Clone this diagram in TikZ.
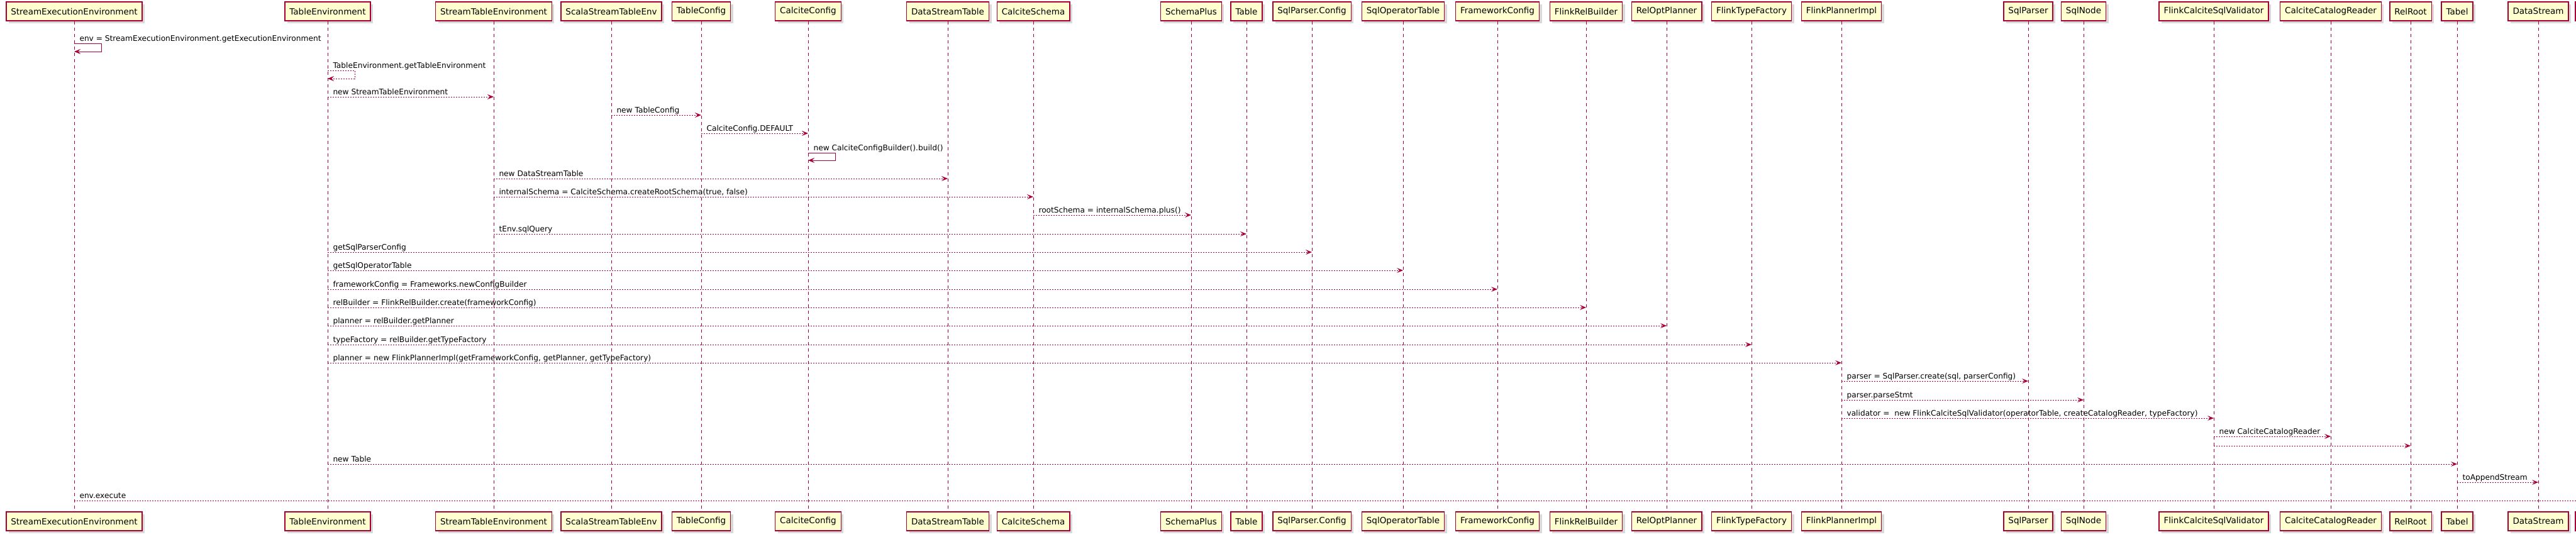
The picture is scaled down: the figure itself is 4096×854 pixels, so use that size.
\documentclass[tikz,border=0pt]{standalone}
\usepackage{fontspec}
\setmainfont{DejaVu Sans}
\usetikzlibrary{arrows.meta,shadows}
\definecolor{umlred}{HTML}{A80036}
\definecolor{umlfill}{HTML}{FEFECE}
\tikzset{
  part/.style={draw=umlred, line width=1.5pt, fill=umlfill, minimum height=30pt,
    inner xsep=7.5pt, inner ysep=0pt, font=\fontsize{13.5}{16}\selectfont,
    drop shadow={shadow xshift=4pt, shadow yshift=-4pt, fill=black!60, opacity=0.25}},
  life/.style={draw=umlred, line width=1pt, dash pattern=on 5pt off 5pt},
  msg/.style={draw=umlred, line width=1pt, dash pattern=on 2pt off 2pt,
    -{Stealth[length=10pt,width=8pt,inset=4pt]}},
  msgsolid/.style={msg, solid},
  lbl/.style={anchor=base west, inner sep=0pt, xshift=8pt, yshift=3.5pt,
    font=\fontsize{12.2}{14}\selectfont, text=black}
}
\begin{document}
\begin{tikzpicture}[x=1pt,y=-1pt]
  \useasboundingbox (0,0) rectangle (4096,854);
  %Participants (top, bottom, lifeline)
  \node[part] (sexe) at (118,18) {StreamExecutionEnvironment};
  \node[part] (sexeB) at (118,829) {StreamExecutionEnvironment};
  \draw[life] (sexe) -- (sexeB);
  \node[part] (tenv) at (521,18) {TableEnvironment};
  \node[part] (tenvB) at (521,829) {TableEnvironment};
  \draw[life] (tenv) -- (tenvB);
  \node[part] (stenv) at (785,18) {StreamTableEnvironment};
  \node[part] (stenvB) at (785,829) {StreamTableEnvironment};
  \draw[life] (stenv) -- (stenvB);
  \node[part] (sstenv) at (972,18) {ScalaStreamTableEnv};
  \node[part] (sstenvB) at (972,829) {ScalaStreamTableEnv};
  \draw[life] (sstenv) -- (sstenvB);
  \node[part] (tcfg) at (1115,18) {TableConfig};
  \node[part] (tcfgB) at (1115,829) {TableConfig};
  \draw[life] (tcfg) -- (tcfgB);
  \node[part] (ccfg) at (1285,18) {CalciteConfig};
  \node[part] (ccfgB) at (1285,829) {CalciteConfig};
  \draw[life] (ccfg) -- (ccfgB);
  \node[part] (dstab) at (1507,18) {DataStreamTable};
  \node[part] (dstabB) at (1507,829) {DataStreamTable};
  \draw[life] (dstab) -- (dstabB);
  \node[part] (cschema) at (1643,18) {CalciteSchema};
  \node[part] (cschemaB) at (1643,829) {CalciteSchema};
  \draw[life] (cschema) -- (cschemaB);
  \node[part] (splus) at (1894,18) {SchemaPlus};
  \node[part] (splusB) at (1894,829) {SchemaPlus};
  \draw[life] (splus) -- (splusB);
  \node[part] (table) at (1982,18) {Table};
  \node[part] (tableB) at (1982,829) {Table};
  \draw[life] (table) -- (tableB);
  \node[part] (spcfg) at (2086,18) {SqlParser.Config};
  \node[part] (spcfgB) at (2086,829) {SqlParser.Config};
  \draw[life] (spcfg) -- (spcfgB);
  \node[part] (sotab) at (2231,18) {SqlOperatorTable};
  \node[part] (sotabB) at (2231,829) {SqlOperatorTable};
  \draw[life] (sotab) -- (sotabB);
  \node[part] (fcfg) at (2381,18) {FrameworkConfig};
  \node[part] (fcfgB) at (2381,829) {FrameworkConfig};
  \draw[life] (fcfg) -- (fcfgB);
  \node[part] (frb) at (2522,18) {FlinkRelBuilder};
  \node[part] (frbB) at (2522,829) {FlinkRelBuilder};
  \draw[life] (frb) -- (frbB);
  \node[part] (rop) at (2650,18) {RelOptPlanner};
  \node[part] (ropB) at (2650,829) {RelOptPlanner};
  \draw[life] (rop) -- (ropB);
  \node[part] (ftf) at (2785,18) {FlinkTypeFactory};
  \node[part] (ftfB) at (2785,829) {FlinkTypeFactory};
  \draw[life] (ftf) -- (ftfB);
  \node[part] (fpi) at (2928,18) {FlinkPlannerImpl};
  \node[part] (fpiB) at (2928,829) {FlinkPlannerImpl};
  \draw[life] (fpi) -- (fpiB);
  \node[part] (sparser) at (3225,18) {SqlParser};
  \node[part] (sparserB) at (3225,829) {SqlParser};
  \draw[life] (sparser) -- (sparserB);
  \node[part] (snode) at (3313,18) {SqlNode};
  \node[part] (snodeB) at (3313,829) {SqlNode};
  \draw[life] (snode) -- (snodeB);
  \node[part] (fcsv) at (3520,18) {FlinkCalciteSqlValidator};
  \node[part] (fcsvB) at (3520,829) {FlinkCalciteSqlValidator};
  \draw[life] (fcsv) -- (fcsvB);
  \node[part] (ccr) at (3706,18) {CalciteCatalogReader};
  \node[part] (ccrB) at (3706,829) {CalciteCatalogReader};
  \draw[life] (ccr) -- (ccrB);
  \node[part] (rroot) at (3833,18) {RelRoot};
  \node[part] (rrootB) at (3833,829) {RelRoot};
  \draw[life] (rroot) -- (rrootB);
  \node[part] (tabel) at (3907,18) {Tabel};
  \node[part] (tabelB) at (3907,829) {Tabel};
  \draw[life] (tabel) -- (tabelB);
  \node[part] (dstream) at (4036,18) {DataStream};
  \node[part] (dstreamB) at (4036,829) {DataStream};
  \draw[life] (dstream) -- (dstreamB);
  %Participant cut off at the right edge
  \node[part, anchor=west, minimum width=100pt] (pnext) at (4094,18) {};
  \node[part, anchor=west, minimum width=100pt] (pnextB) at (4094,829) {};
  %Messages
  \draw[msgsolid] (sexe |- 0,69) node[lbl]{env = StreamExecutionEnvironment.getExecutionEnvironment}
    -- ++(43,0) -- ++(0,13) -- (sexe |- 0,82);
  \draw[msg] (tenv |- 0,112) node[lbl]{TableEnvironment.getTableEnvironment}
    -- ++(43,0) -- ++(0,13) -- (tenv |- 0,125);
  \draw[msg] (tenv |- 0,154) -- (stenv |- 0,154) node[lbl,pos=0]{new StreamTableEnvironment};
  \draw[msg] (sstenv |- 0,183) -- (tcfg |- 0,183) node[lbl,pos=0]{new TableConfig};
  \draw[msg] (tcfg |- 0,212) -- (ccfg |- 0,212) node[lbl,pos=0]{CalciteConfig.DEFAULT};
  \draw[msgsolid] (ccfg |- 0,243) node[lbl]{new CalciteConfigBuilder().build()}
    -- ++(43,0) -- ++(0,12) -- (ccfg |- 0,255);
  \draw[msg] (stenv |- 0,284) -- (dstab |- 0,284) node[lbl,pos=0]{new DataStreamTable};
  \draw[msg] (stenv |- 0,313) -- (cschema |- 0,313) node[lbl,pos=0]{internalSchema = CalciteSchema.createRootSchema(true, false)};
  \draw[msg] (cschema |- 0,342) -- (splus |- 0,342) node[lbl,pos=0]{rootSchema = internalSchema.plus()};
  \draw[msg] (stenv |- 0,372) -- (table |- 0,372) node[lbl,pos=0]{tEnv.sqlQuery};
  \draw[msg] (tenv |- 0,401) -- (spcfg |- 0,401) node[lbl,pos=0]{getSqlParserConfig};
  \draw[msg] (tenv |- 0,430) -- (sotab |- 0,430) node[lbl,pos=0]{getSqlOperatorTable};
  \draw[msg] (tenv |- 0,460) -- (fcfg |- 0,460) node[lbl,pos=0]{frameworkConfig = Frameworks.newConfigBuilder};
  \draw[msg] (tenv |- 0,489) -- (frb |- 0,489) node[lbl,pos=0]{relBuilder = FlinkRelBuilder.create(frameworkConfig)};
  \draw[msg] (tenv |- 0,518) -- (rop |- 0,518) node[lbl,pos=0]{planner = relBuilder.getPlanner};
  \draw[msg] (tenv |- 0,548) -- (ftf |- 0,548) node[lbl,pos=0]{typeFactory = relBuilder.getTypeFactory};
  \draw[msg] (tenv |- 0,577) -- (fpi |- 0,577) node[lbl,pos=0]{planner = new FlinkPlannerImpl(getFrameworkConfig, getPlanner, getTypeFactory)};
  \draw[msg] (fpi |- 0,606) -- (sparser |- 0,606) node[lbl,pos=0]{parser = SqlParser.create(sql, parserConfig)};
  \draw[msg] (fpi |- 0,636) -- (snode |- 0,636) node[lbl,pos=0]{parser.parseStmt};
  \draw[msg] (fpi |- 0,665) -- (fcsv |- 0,665) node[lbl,pos=0]{validator =\ \ new FlinkCalciteSqlValidator(operatorTable, createCatalogReader, typeFactory)};
  \draw[msg] (fcsv |- 0,694) -- (ccr |- 0,694) node[lbl,pos=0]{new CalciteCatalogReader};
  \draw[msg] (fcsv |- 0,709) -- (rroot |- 0,709);
  \draw[msg] (tenv |- 0,738) -- (tabel |- 0,738) node[lbl,pos=0]{new Table};
  \draw[msg] (tabel |- 0,767) -- (dstream |- 0,767) node[lbl,pos=0]{toAppendStream};
  \draw[msg] (sexe |- 0,796) -- (pnext |- 0,796) node[lbl,pos=0]{env.execute};
\end{tikzpicture}
\end{document}
